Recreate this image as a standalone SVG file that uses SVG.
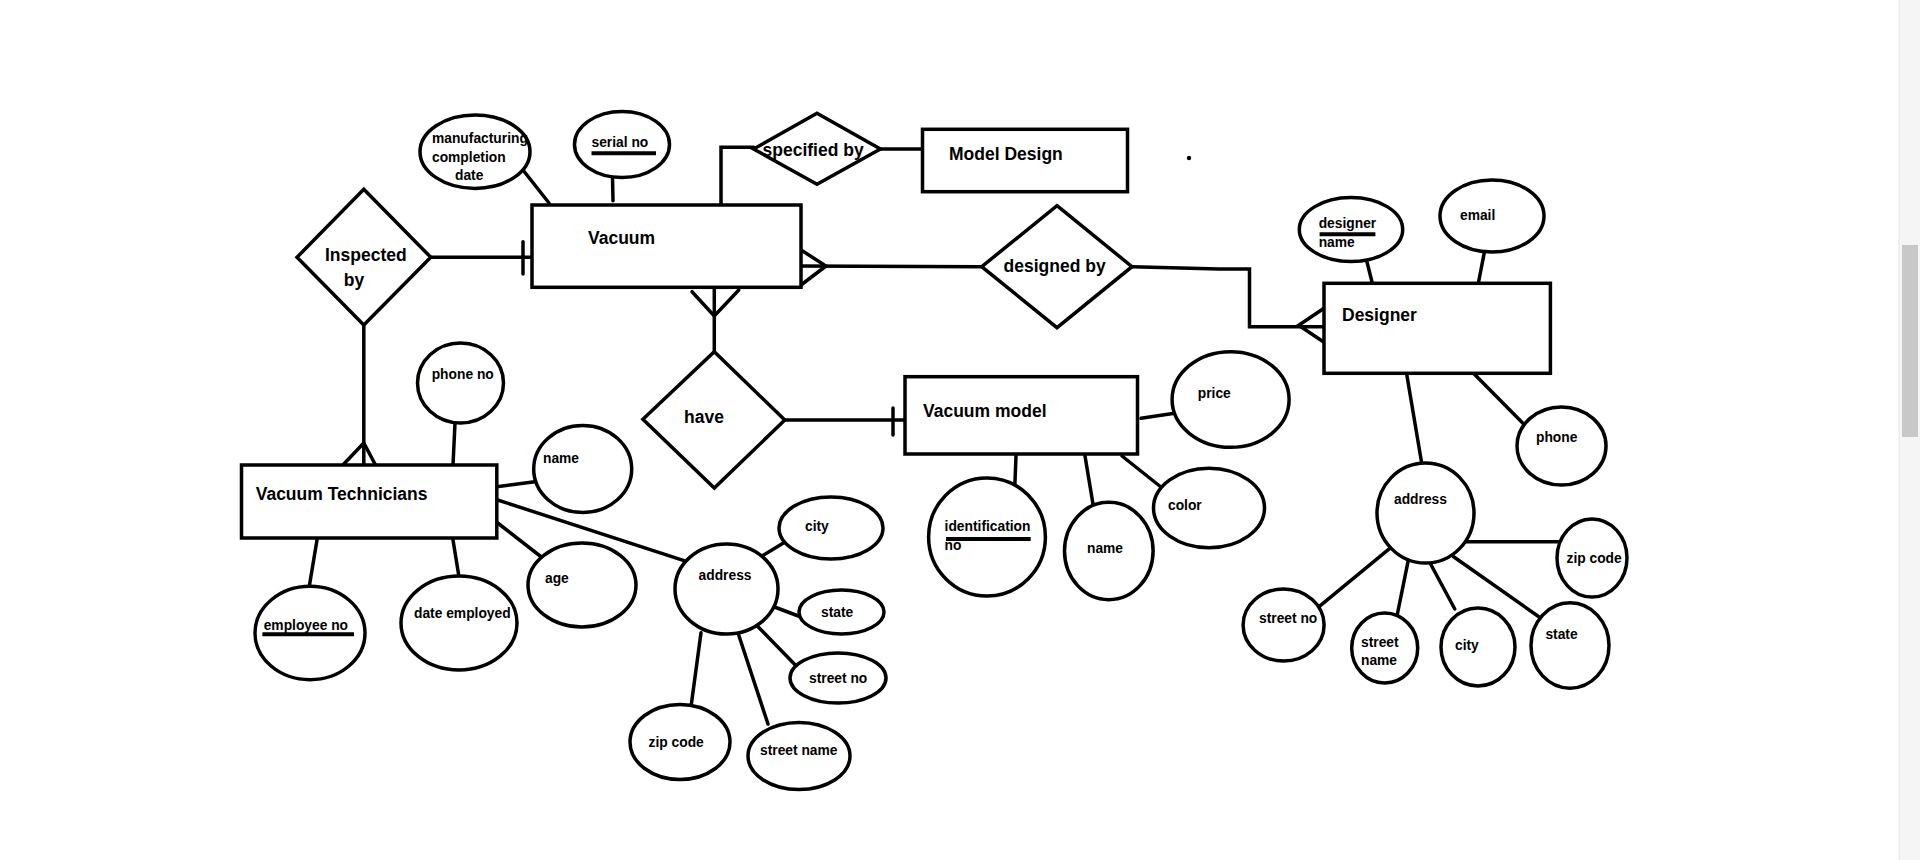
<svg xmlns="http://www.w3.org/2000/svg" width="1920" height="860" viewBox="0 0 1920 860">
<style>
.s{fill:none;stroke:#000;stroke-width:3.5;stroke-linecap:round;stroke-linejoin:miter}
.sh{fill:#fff;stroke:#000;stroke-width:3.5}
.t{font-family:"Liberation Sans",Arial,sans-serif;font-weight:bold;font-size:17.5px;fill:#000}
.a{font-family:"Liberation Sans",Arial,sans-serif;font-weight:bold;font-size:13.8px;fill:#000}
.u{stroke:#000;stroke-width:4;fill:none}
</style>
<rect x="0" y="0" width="1920" height="860" fill="#fff"/>
<!-- scrollbar of the screenshot -->
<rect x="1899" y="0" width="21" height="860" fill="#f5f5f5"/>
<line x1="1899" y1="0" x2="1899" y2="860" stroke="#e6e6e6" stroke-width="1"/>
<rect x="1902" y="245" width="16" height="192" fill="#c8c8c8"/>
<circle cx="1189" cy="158" r="2.2" fill="#000"/>

<g id="connectors">
  <!-- Inspected by - Vacuum -->
  <line class="s" x1="430.8" y1="257.3" x2="532" y2="257.3"/>
  <line class="s" x1="523" y1="241.7" x2="523" y2="274"/>
  <!-- Inspected by - Vacuum Technicians -->
  <line class="s" x1="363.8" y1="325" x2="363.8" y2="466"/>
  <polyline class="s" points="343.8,464 363.8,443 375,464"/>
  <!-- Vacuum - specified by -->
  <polyline class="s" points="721,207 721,147.3 753.6,147.3"/>
  <line class="s" x1="880.4" y1="149" x2="923" y2="149"/>
  <!-- Vacuum - designed by -->
  <line class="s" x1="797" y1="266" x2="981.7" y2="266.7"/>
  <polyline class="s" points="801,250 826,266 801,285"/>
  <!-- designed by - Designer -->
  <polyline class="s" points="1132,266.7 1219,269 1249.5,269 1249.5,326.7 1328.6,326.7"/>
  <polyline class="s" points="1324,308.3 1298.7,325.3 1324,342.3"/>
  <!-- Vacuum - have -->
  <line class="s" x1="714.3" y1="287" x2="714.3" y2="351.7"/>
  <polyline class="s" points="692,291.7 714.3,316 738.8,290"/>
  <!-- have - Vacuum model -->
  <line class="s" x1="784.8" y1="420" x2="905.4" y2="420"/>
  <line class="s" x1="893" y1="408" x2="893" y2="435"/>
  <!-- Vacuum attributes -->
  <line class="s" x1="523" y1="170" x2="549" y2="203"/>
  <line class="s" x1="612.5" y1="177" x2="613" y2="200.7"/>
  <!-- Designer attributes -->
  <line class="s" x1="1366.5" y1="260" x2="1374" y2="290"/>
  <line class="s" x1="1484.8" y1="250" x2="1477" y2="290"/>
  <line class="s" x1="1469.5" y1="369.3" x2="1523.7" y2="424"/>
  <line class="s" x1="1405.7" y1="368.3" x2="1421.7" y2="463.3"/>
  <line class="s" x1="1466" y1="541.7" x2="1566.5" y2="541.7"/>
  <line class="s" x1="1391" y1="547.3" x2="1313" y2="611.7"/>
  <line class="s" x1="1408" y1="561.7" x2="1397.4" y2="614"/>
  <line class="s" x1="1430.6" y1="564" x2="1454.8" y2="609"/>
  <line class="s" x1="1453.6" y1="556.7" x2="1541" y2="618.3"/>
  <!-- Vacuum model attributes -->
  <line class="s" x1="1141" y1="418.3" x2="1174.5" y2="413.3"/>
  <line class="s" x1="1016" y1="456" x2="1014.8" y2="486"/>
  <line class="s" x1="1085" y1="456" x2="1094.5" y2="513"/>
  <line class="s" x1="1122" y1="456" x2="1164.7" y2="490"/>
  <!-- Vacuum Technicians attributes -->
  <line class="s" x1="455" y1="423" x2="453" y2="465"/>
  <line class="s" x1="496.8" y1="486.7" x2="534.7" y2="481.7"/>
  <line class="s" x1="497.7" y1="523" x2="541.4" y2="557"/>
  <line class="s" x1="317" y1="540" x2="309" y2="588"/>
  <line class="s" x1="453" y1="540" x2="459" y2="577"/>
  <line class="s" x1="497.7" y1="500" x2="684" y2="560.7"/>
  <line class="s" x1="762" y1="556" x2="783.4" y2="543"/>
  <line class="s" x1="774.5" y1="607" x2="809" y2="620"/>
  <line class="s" x1="758" y1="626.7" x2="797" y2="666.7"/>
  <line class="s" x1="701" y1="632.7" x2="691" y2="706.7"/>
  <line class="s" x1="738.7" y1="635" x2="768" y2="724"/>
</g>

<g id="vacuum">
  <rect class="sh" x="532" y="205" width="269" height="82.3"/>
  <text class="t" x="588" y="244">Vacuum</text>
</g>
<g id="inspected-by">
  <polygon class="sh" points="363.8,189.3 430.8,257.3 363.8,325 297,257.3"/>
  <text class="t" x="325" y="260.7">Inspected</text>
  <text class="t" x="343.7" y="286">by</text>
</g>
<g id="specified-by">
  <polygon class="sh" points="817,113.3 880.4,149 817,184.3 753.6,149"/>
  <text class="t" x="762.5" y="156">specified by</text>
</g>
<g id="model-design">
  <rect class="sh" x="922.5" y="129.3" width="205" height="62.4"/>
  <text class="t" x="949" y="160">Model Design</text>
</g>
<g id="designed-by">
  <polygon class="sh" points="1057,205.7 1132,266.7 1057,327.7 981.7,266.7"/>
  <text class="t" x="1003.6" y="271.7">designed by</text>
</g>
<g id="designer">
  <rect class="sh" x="1324" y="283.3" width="226.4" height="90"/>
  <text class="t" x="1342" y="320.7">Designer</text>
</g>
<g id="have">
  <polygon class="sh" points="714.3,351.7 784.8,420 714.3,488 642.9,419.3"/>
  <text class="t" x="684" y="422.7">have</text>
</g>
<g id="vacuum-model">
  <rect class="sh" x="905" y="376.7" width="232.5" height="77.3"/>
  <text class="t" x="923" y="416.7">Vacuum model</text>
</g>
<g id="vacuum-technicians">
  <rect class="sh" x="241.5" y="465" width="255.3" height="73"/>
  <text class="t" x="255.7" y="500">Vacuum Technicians</text>
</g>

<!-- Vacuum attributes -->
<g id="attr-manufacturing-date">
  <ellipse class="sh" cx="475" cy="151.7" rx="55" ry="36.7"/>
  <text class="a" x="432" y="143.3">manufacturing</text>
  <text class="a" x="432" y="161.7">completion</text>
  <text class="a" x="455" y="180">date</text>
</g>
<g id="attr-serial-no">
  <ellipse class="sh" cx="622" cy="144.5" rx="47.5" ry="33"/>
  <text class="a" x="591.5" y="147.3">serial no</text>
  <line class="u" x1="591.5" y1="153.3" x2="656" y2="153.3"/>
</g>

<!-- Designer attributes -->
<g id="attr-designer-name">
  <ellipse class="sh" cx="1351" cy="229.5" rx="51.7" ry="32"/>
  <text class="a" x="1318.7" y="227.7">designer</text>
  <line class="u" x1="1319.6" y1="234.3" x2="1375.4" y2="234.3"/>
  <text class="a" x="1318.7" y="246.7">name</text>
</g>
<g id="attr-email">
  <ellipse class="sh" cx="1492" cy="216" rx="52" ry="36"/>
  <text class="a" x="1460" y="220">email</text>
</g>
<g id="attr-phone">
  <ellipse class="sh" cx="1561.5" cy="446" rx="44.5" ry="39"/>
  <text class="a" x="1536" y="441.7">phone</text>
</g>
<g id="attr-designer-address">
  <ellipse class="sh" cx="1425.5" cy="513" rx="48.5" ry="50"/>
  <text class="a" x="1394" y="504">address</text>
</g>
<g id="attr-designer-zip">
  <ellipse class="sh" cx="1592" cy="558" rx="35" ry="39"/>
  <text class="a" x="1566.5" y="563.3">zip code</text>
</g>
<g id="attr-designer-street-no">
  <ellipse class="sh" cx="1283.6" cy="625" rx="40.5" ry="36"/>
  <text class="a" x="1259" y="623.3">street no</text>
</g>
<g id="attr-designer-street-name">
  <ellipse class="sh" cx="1384.7" cy="648" rx="33" ry="35"/>
  <text class="a" x="1361" y="646.7">street</text>
  <text class="a" x="1361" y="665">name</text>
</g>
<g id="attr-designer-city">
  <ellipse class="sh" cx="1478" cy="647" rx="37" ry="39"/>
  <text class="a" x="1455" y="650">city</text>
</g>
<g id="attr-designer-state">
  <ellipse class="sh" cx="1570" cy="645.5" rx="39" ry="42.7"/>
  <text class="a" x="1545.4" y="639.3">state</text>
</g>

<!-- Vacuum model attributes -->
<g id="attr-price">
  <ellipse class="sh" cx="1230.6" cy="399.5" rx="58.5" ry="47.8"/>
  <text class="a" x="1197.8" y="398">price</text>
</g>
<g id="attr-identification-no">
  <ellipse class="sh" cx="987" cy="537" rx="58.4" ry="59"/>
  <text class="a" x="944.6" y="530.7">identification</text>
  <line class="u" x1="946" y1="539" x2="1030.7" y2="539"/>
  <text class="a" x="944.6" y="550">no</text>
</g>
<g id="attr-model-name">
  <ellipse class="sh" cx="1108.8" cy="551" rx="44.3" ry="48.7"/>
  <text class="a" x="1087" y="553.3">name</text>
</g>
<g id="attr-color">
  <ellipse class="sh" cx="1209" cy="508" rx="55.5" ry="39.7"/>
  <text class="a" x="1168" y="510">color</text>
</g>

<!-- Vacuum Technicians attributes -->
<g id="attr-phone-no">
  <ellipse class="sh" cx="460.5" cy="383" rx="43" ry="40"/>
  <text class="a" x="431.7" y="379">phone no</text>
</g>
<g id="attr-tech-name">
  <ellipse class="sh" cx="582.7" cy="469" rx="49" ry="43.5"/>
  <text class="a" x="543" y="462.7">name</text>
</g>
<g id="attr-age">
  <ellipse class="sh" cx="582" cy="585" rx="54" ry="42"/>
  <text class="a" x="545" y="582.7">age</text>
</g>
<g id="attr-employee-no">
  <ellipse class="sh" cx="310" cy="633" rx="55" ry="46.7"/>
  <text class="a" x="263.7" y="630">employee no</text>
  <line class="u" x1="262.4" y1="634.3" x2="354" y2="634.3"/>
</g>
<g id="attr-date-employed">
  <ellipse class="sh" cx="459" cy="623" rx="58" ry="47"/>
  <text class="a" x="414" y="618">date employed</text>
</g>
<g id="attr-tech-address">
  <ellipse class="sh" cx="726.5" cy="589" rx="51.5" ry="45"/>
  <text class="a" x="698.6" y="580">address</text>
</g>
<g id="attr-tech-city">
  <ellipse class="sh" cx="831" cy="528" rx="52" ry="31"/>
  <text class="a" x="805" y="530.7">city</text>
</g>
<g id="attr-tech-state">
  <ellipse class="sh" cx="841.5" cy="612" rx="42.5" ry="22"/>
  <text class="a" x="821" y="616.7">state</text>
</g>
<g id="attr-tech-street-no">
  <ellipse class="sh" cx="838" cy="678" rx="48" ry="25"/>
  <text class="a" x="809" y="682.7">street no</text>
</g>
<g id="attr-tech-zip">
  <ellipse class="sh" cx="680" cy="742" rx="50" ry="37.5"/>
  <text class="a" x="648.6" y="747">zip code</text>
</g>
<g id="attr-tech-street-name">
  <ellipse class="sh" cx="799" cy="756" rx="51" ry="33.5"/>
  <text class="a" x="760" y="755">street name</text>
</g>
</svg>
